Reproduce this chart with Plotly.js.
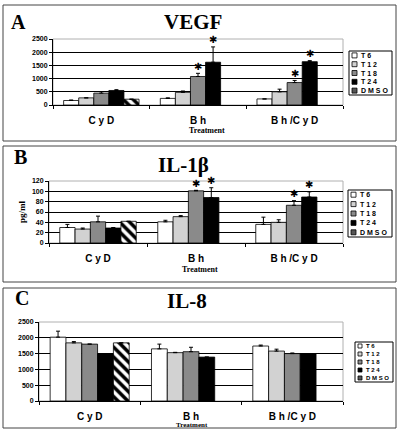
<!DOCTYPE html>
<html>
<head>
<meta charset="utf-8">
<script src="https://cdn.plot.ly/plotly-3.0.1.min.js"></script>
<style>html,body{margin:0;padding:0;background:#fff;}#chart{width:400px;height:432px;}</style>
</head>
<body>
<div id="chart"></div>
<script>
// ---- data ----
const categories = ['CyD', 'Bh', 'Bh/CyD'];
const tickLabels = ['C y D', 'B h', 'B h /C y D'];
const seriesNames = ['T6', 'T12', 'T18', 'T24', 'DMSO'];
const legendLabels = ['T 6', 'T 1 2', 'T 1 8', 'T 2 4', 'D M S O'];

// Panel A: VEGF
const vegfT6 = [170, 250, 230];
const vegfT12 = [270, 480, 500];
const vegfT18 = [450, 1080, 850];
const vegfT24 = [550, 1620, 1640];
const vegfDMSO = [220, null, null];
const vegfErrT6 = [20, 20, 0];
const vegfErrT12 = [0, 50, 100];
const vegfErrT18 = [60, 120, 80];
const vegfErrT24 = [30, 580, 40];
const vegfErrDMSO = [0, 0, 0];
const vegfStars = [[1, 2], [1, 3], [2, 2], [2, 3]]; // [category index, series index]

// Panel B: IL-1beta
const il1T6 = [30, 41, 36];
const il1T12 = [27, 51, 40];
const il1T18 = [41, 101, 73];
const il1T24 = [29, 88, 89];
const il1DMSO = [42, null, null];
const il1ErrT6 = [6, 3, 14];
const il1ErrT12 = [2, 2, 5];
const il1ErrT18 = [11, 1, 9];
const il1ErrT24 = [1, 19, 10];
const il1ErrDMSO = [0, 0, 0];
const il1Stars = [[1, 2], [1, 3], [2, 2], [2, 3]];

// Panel C: IL-8
const il8T6 = [2020, 1650, 1740];
const il8T12 = [1840, 1530, 1580];
const il8T18 = [1800, 1560, 1500];
const il8T24 = [1490, 1390, 1500];
const il8DMSO = [1840, null, null];
const il8ErrT6 = [190, 150, 30];
const il8ErrT12 = [40, 10, 60];
const il8ErrT18 = [0, 140, 20];
const il8ErrT24 = [0, 0, 0];
const il8ErrDMSO = [0, 0, 0];
const il8Stars = [];

// ---- styling ----
const W = 400, H = 432;
const fx = x => x / W;
const fy = y => 1 - y / H;
const fills = ['#ffffff', '#d2d2d2', '#8a8a8a', '#000000', '#ffffff'];
const BARGAP = 0.22;

const panels = [
  {vals: [vegfT6, vegfT12, vegfT18, vegfT24, vegfDMSO],
   errs: [vegfErrT6, vegfErrT12, vegfErrT18, vegfErrT24, vegfErrDMSO],
   stars: vegfStars, title: 'VEGF', letter: 'A', range: [0, 2500], dtick: 500,
   px: [53, 343], py: [39, 105], box: [3, 5, 396, 141],
   legend: [349, 51, 392, 95], legFont: 7, legSq: 5, titleXY: [193, 22], letterXY: [18, 22],
   treatXY: [207, 131], treatSize: 8, ytitle: null},
  {vals: [il1T6, il1T12, il1T18, il1T24, il1DMSO],
   errs: [il1ErrT6, il1ErrT12, il1ErrT18, il1ErrT24, il1ErrDMSO],
   stars: il1Stars, title: 'IL-1β', letter: 'B', range: [0, 120], dtick: 20,
   px: [49, 343], py: [181, 243], box: [3, 146, 396, 282],
   legend: [348, 190, 392, 237], legFont: 7, legSq: 5, titleXY: [183, 165], letterXY: [20, 157],
   treatXY: [200, 269], treatSize: 8, ytitle: 'pg/ml', ytitleXY: [22, 212]},
  {vals: [il8T6, il8T12, il8T18, il8T24, il8DMSO],
   errs: [il8ErrT6, il8ErrT12, il8ErrT18, il8ErrT24, il8ErrDMSO],
   stars: il8Stars, title: 'IL-8', letter: 'C', range: [0, 2500], dtick: 500,
   px: [39, 343], py: [322, 401], box: [3, 288, 396, 428],
   legend: [355, 342, 393, 382], legFont: 6, legSq: 4, titleXY: [187, 301], letterXY: [22, 298],
   treatXY: [192, 424.5], treatSize: 7, ytitle: null}
];

const traces = [];
const shapes = [];
const annotations = [];
const layout = {
  width: W, height: H,
  margin: {l: 0, r: 0, t: 0, b: 0, pad: 0},
  paper_bgcolor: '#ffffff', plot_bgcolor: '#ffffff',
  showlegend: false, barmode: 'group', bargap: BARGAP, bargroupgap: 0,
  font: {family: 'Arial, Liberation Sans, sans-serif', color: '#000'}
};

panels.forEach((p, pi) => {
  const sfx = pi === 0 ? '' : String(pi + 1);
  const xa = 'x' + sfx, ya = 'y' + sfx;
  seriesNames.forEach((name, si) => {
    const t = {
      type: 'bar', name: name, x: categories, y: p.vals[si],
      xaxis: xa, yaxis: ya,
      marker: {color: fills[si], line: {color: '#000', width: 0.8}},
      error_y: {type: 'data', symmetric: false, array: p.errs[si],
                arrayminus: p.errs[si].map(() => 0),
                color: '#000', thickness: 1, width: 2},
      hoverinfo: 'skip'
    };
    if (name === 'DMSO') {
      t.marker.pattern = {shape: '\\', fgcolor: '#000', bgcolor: '#fff', size: 7, solidity: 0.5};
    }
    traces.push(t);
  });

  layout['xaxis' + sfx] = {
    domain: [fx(p.px[0]), fx(p.px[1])], anchor: ya,
    type: 'category', tickmode: 'array', tickvals: categories, ticktext: tickLabels,
    tickson: 'boundaries', ticks: 'outside', ticklen: 3, tickcolor: '#000',
    ticklabelstandoff: 6,
    showline: true, linecolor: '#000', linewidth: 1, showgrid: false, zeroline: false,
    tickfont: {family: 'Arial, Liberation Sans, sans-serif', size: 10, weight: 'bold', color: '#000'},
    fixedrange: true
  };
  layout['yaxis' + sfx] = {
    domain: [fy(p.py[1]), fy(p.py[0])], anchor: xa,
    range: p.range, dtick: p.dtick, tick0: 0,
    ticks: 'outside', ticklen: 3, tickcolor: '#000',
    showline: true, linecolor: '#000', linewidth: 1,
    showgrid: true, gridcolor: '#000', gridwidth: 1, zeroline: false,
    tickfont: {family: 'Arial, Liberation Sans, sans-serif', size: 7, weight: 'bold', color: '#000'},
    fixedrange: true
  };

  // plot area frame
  shapes.push({type: 'rect', xref: xa + ' domain', yref: ya + ' domain', x0: 0, x1: 1, y0: 0, y1: 1,
               line: {color: '#b0b0b0', width: 1}, layer: 'below'});
  // panel border
  shapes.push({type: 'rect', xref: 'paper', yref: 'paper',
               x0: fx(p.box[0]), x1: fx(p.box[2]), y0: fy(p.box[3]), y1: fy(p.box[1]),
               line: {color: '#444', width: 1}});

  // stars above bars
  const plotW = p.px[1] - p.px[0];
  const slot = plotW / categories.length * (1 - BARGAP) / seriesNames.length;
  p.stars.forEach(([ci, si]) => {
    annotations.push({xref: xa, yref: ya, x: categories[ci], y: p.vals[si][ci] + p.errs[si][ci],
      xshift: (si - 2) * slot, yshift: 7, yanchor: 'middle', showarrow: false,
      text: '✱', font: {family: 'DejaVu Sans', size: 10, color: '#000'}});
  });

  // titles
  annotations.push({xref: 'paper', yref: 'paper', x: fx(p.titleXY[0]), y: fy(p.titleXY[1]),
    xanchor: 'center', yanchor: 'middle', showarrow: false, text: p.title,
    font: {family: 'Liberation Serif, Times New Roman, serif', size: 21, weight: 'bold', color: '#000'}});
  annotations.push({xref: 'paper', yref: 'paper', x: fx(p.letterXY[0]), y: fy(p.letterXY[1]),
    xanchor: 'center', yanchor: 'middle', showarrow: false, text: p.letter,
    font: {family: 'Liberation Serif, Times New Roman, serif', size: 20, weight: 'bold', color: '#000'}});
  annotations.push({xref: 'paper', yref: 'paper', x: fx(p.treatXY[0]), y: fy(p.treatXY[1]),
    xanchor: 'center', yanchor: 'middle', showarrow: false, text: 'Treatment',
    font: {family: 'Liberation Serif, Times New Roman, serif', size: p.treatSize, weight: 'bold', color: '#000'}});
  if (p.ytitle) {
    annotations.push({xref: 'paper', yref: 'paper', x: fx(p.ytitleXY[0]), y: fy(p.ytitleXY[1]),
      xanchor: 'center', yanchor: 'middle', showarrow: false, text: p.ytitle, textangle: -90,
      font: {family: 'Liberation Serif, Times New Roman, serif', size: 9, weight: 'bold', color: '#000'}});
  }

  // legend box
  const [lx0, ly0, lx1, ly1] = p.legend;
  shapes.push({type: 'rect', xref: 'paper', yref: 'paper',
               x0: fx(lx0), x1: fx(lx1), y0: fy(ly1), y1: fy(ly0),
               line: {color: '#000', width: 1}, fillcolor: '#fff'});
  const step = (ly1 - ly0) / seriesNames.length;
  const half = p.legSq / 2;
  seriesNames.forEach((name, si) => {
    const cy = ly0 + step * (si + 0.5);
    const sq = {type: 'rect', xref: 'paper', yref: 'paper',
      x0: fx(lx0 + 3), x1: fx(lx0 + 3 + p.legSq), y0: fy(cy + half), y1: fy(cy - half),
      line: {color: '#000', width: 0.8}, fillcolor: fills[si]};
    if (name === 'DMSO') { sq.fillcolor = '#555'; }
    shapes.push(sq);
    annotations.push({xref: 'paper', yref: 'paper', x: fx(lx0 + 5 + p.legSq), y: fy(cy),
      xanchor: 'left', yanchor: 'middle', showarrow: false, text: legendLabels[si],
      font: {family: 'Arial, Liberation Sans, sans-serif', size: p.legFont, weight: 'bold', color: '#000'}});
  });
});

layout.shapes = shapes;
layout.annotations = annotations;

Plotly.newPlot('chart', traces, layout, {staticPlot: true, displayModeBar: false});
</script>
</body>
</html>
